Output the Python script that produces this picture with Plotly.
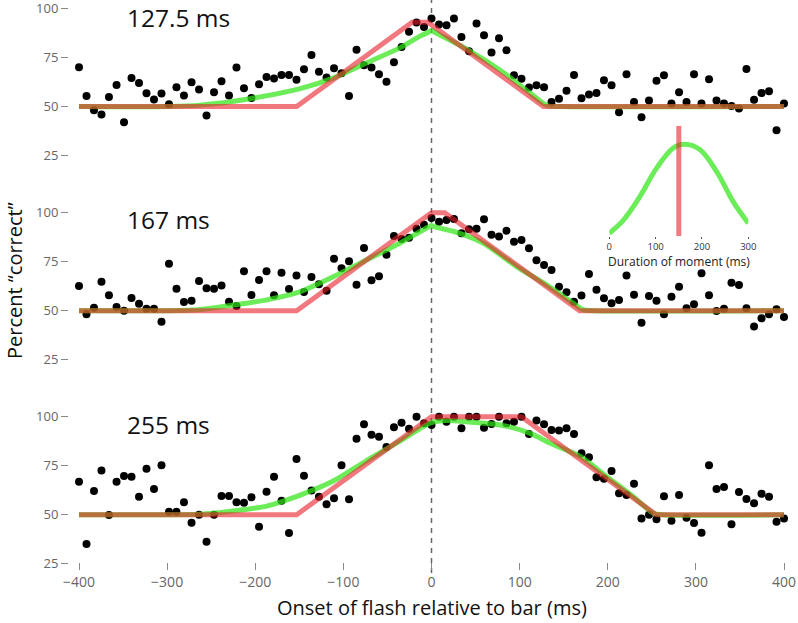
import plotly.graph_objects as go

# ---------------- data ----------------
onsets = [-400.0, -391.5, -383.0, -374.5, -366.0, -357.4, -348.9, -340.4, -331.9, -323.4,
          -314.9, -306.4, -297.9, -289.4, -280.9, -272.3, -263.8, -255.3, -246.8, -238.3,
          -229.8, -221.3, -212.8, -204.3, -195.7, -187.2, -178.7, -170.2, -161.7, -153.2,
          -144.7, -136.2, -127.7, -119.1, -110.6, -102.1, -93.6, -85.1, -76.6, -68.1,
          -59.6, -51.1, -42.6, -34.0, -25.5, -17.0, -8.5, 0.0, 8.5, 17.0,
          25.5, 34.0, 42.6, 51.1, 59.6, 68.1, 76.6, 85.1, 93.6, 102.1,
          110.6, 119.1, 127.7, 136.2, 144.7, 153.2, 161.7, 170.2, 178.7, 187.2,
          195.7, 204.3, 212.8, 221.3, 229.8, 238.3, 246.8, 255.3, 263.8, 272.3,
          280.9, 289.4, 297.9, 306.4, 314.9, 323.4, 331.9, 340.4, 348.9, 357.4,
          366.0, 374.5, 383.0, 391.5, 400.0]

pct_127 = [70.0, 55.4, 48.1, 45.9, 54.9, 61.0, 42.0, 64.6, 62.0, 56.8, 53.6, 56.6, 51.2, 59.8, 55.6,
           62.4, 58.7, 45.4, 57.3, 62.9, 55.6, 69.9, 59.3, 54.4, 61.4, 65.0, 64.3, 66.1, 66.1, 63.6,
           69.0, 76.3, 67.7, 64.8, 69.5, 67.0, 55.4, 78.9, 71.1, 69.9, 66.5, 62.6, 72.6, 80.3, 88.1,
           92.8,
           90.5, 94.9, 91.8, 91.5, 94.9, 85.5, 78.2, 92.3, 86.4, 77.6, 84.8, 78.7, 66.0, 64.1, 59.7,
           60.9, 59.8, 52.3, 54.0, 58.0, 66.1, 54.2, 56.1, 56.9, 63.4, 60.9, 47.1, 66.5, 52.3, 44.5,
           53.0, 63.1, 66.0, 51.5, 57.3, 52.3, 66.5, 51.5, 63.9, 53.0, 51.5, 50.3, 49.0, 69.1, 53.4,
           56.9, 57.8, 37.9, 51.5]

pct_167 = [62.6, 48.2, 51.5, 64.8, 57.9, 51.9, 50.0, 56.5, 53.6, 51.0, 51.0, 44.4, 74.0, 61.2, 54.4,
           55.1, 65.2, 61.4, 61.2, 62.8, 54.6, 52.4, 70.1, 58.0, 65.7, 70.1, 57.9, 69.4, 61.1, 67.9,
           59.5, 67.2, 63.5, 60.2, 76.5, 71.6, 75.2, 63.3, 82.0, 65.5, 67.6, 78.6, 88.1, 86.6, 87.2,
           91.8,
           93.9, 97.3, 95.4, 96.3, 96.8, 89.5, 91.5, 91.8, 96.6, 88.8, 87.8, 90.8, 85.2, 86.1, 81.8,
           75.7, 73.3, 70.8, 62.2, 59.4, 54.6, 57.7, 68.7, 60.7, 56.3, 53.8, 55.5, 67.9, 58.2, 43.9,
           57.5, 55.1, 48.2, 57.1, 62.2, 51.2, 53.3, 69.1, 57.9, 49.8, 51.0, 64.3, 63.1, 51.2, 42.0,
           46.1, 48.2, 50.7, 46.8]

pct_255 = [66.8, 35.0, 62.1, 72.6, 49.8, 66.8, 69.7, 69.4, 59.2, 73.5, 63.1, 75.2, 51.5, 51.5, 56.3,
           45.9, 50.0, 36.2, 50.0, 59.5, 59.5, 56.3, 56.1, 58.9, 43.9, 61.7, 69.4, 57.1, 40.7, 78.4,
           69.9, 62.4, 59.2, 55.3, 58.4, 75.2, 57.9, 88.8, 96.1, 90.8, 89.8, 84.5, 94.6, 96.9, 93.9,
           100.0,
           96.6, 95.8, 100.0, 97.4, 100.0, 94.1, 100.0, 100.0, 94.4, 96.3, 100.0, 96.6, 97.4, 100.0, 91.2,
           98.0, 96.1, 93.2, 92.9, 94.1, 91.2, 81.3, 79.3, 69.1, 68.4, 72.3, 60.9, 60.1, 65.8, 48.0,
           50.0, 47.7, 59.4, 46.9, 60.1, 48.5, 45.8, 40.8, 75.2, 63.1, 64.1, 45.1, 61.6, 58.0, 55.8,
           60.7, 59.2, 46.4, 48.0]

# red (fixed-duration moment) fits
red_127_x = [-400, -153, -22, -4, 127, 400]
red_127_y = [50, 50, 93, 93, 50, 50]
red_167_x = [-400, -153, 0, 15, 168, 400]
red_167_y = [50, 50, 100, 100, 50, 50]
red_255_x = [-400, -153, 0, 102, 255, 400]
red_255_y = [50, 50, 100, 100, 50, 50]

# green (distributed-duration) fits
grn_127_x = [-400, -300, -263, -206, -149, -111, -74, -36, -13, -3, 0, 3, 40, 78, 110, 132, 145, 400]
grn_127_y = [50, 50, 50.7, 54.0, 59.1, 64.6, 72.2, 79.9, 85.9, 88.0, 88.8, 88.0, 79.3, 68.5, 57.5, 50.3, 50, 50]
grn_167_x = [-400, -300, -265, -225, -187, -149, -111, -74, -36, -13, -3, 0, 3, 32, 59, 97, 134, 161, 172, 185, 400]
grn_167_y = [50, 50, 50.5, 52.9, 55.5, 59.7, 67.4, 75.9, 84.4, 90.3, 92.8, 93.5, 92.9, 89.5, 84.4, 72.4, 62.2, 53.8, 50.5, 50, 50]
grn_255_x = [-400, -300, -263, -225, -187, -149, -111, -74, -36, -13, 0, 17, 40, 78, 112, 135, 169, 199, 229, 252, 262, 400]
grn_255_y = [50, 50, 50.2, 51.9, 54.4, 60.0, 67.3, 77.5, 87.5, 94.0, 97.0, 98.0, 97.4, 95.8, 91.5, 86.4, 79.6, 69.4, 59.2, 50.7, 50, 50]

panel_labels = ["127.5 ms", "167 ms", "255 ms"]
y_ticks = [25, 50, 75, 100]
x_ticks = [-400, -300, -200, -100, 0, 100, 200, 300, 400]

# inset: distribution of moment duration
inset_ms = [0, 30, 66, 102, 138, 163, 196, 232, 268, 300]
inset_val = [0.03, 0.17, 0.43, 0.74, 0.96, 1.0, 0.94, 0.70, 0.37, 0.14]
inset_mark_x = [150, 150]
inset_mark_y = [0, 1.2]
inset_ticks = [0, 100, 200, 300]

# ---------------- layout helpers ----------------
WIDTH, HEIGHT = 798, 623
ML, MR, MT, MB = 69, 8, 0, 55
PW = WIDTH - ML - MR
PH = HEIGHT - MT - MB
FONT = "Open Sans"
RED = "#e8202a"
GREEN = "#33e619"


def fx(px):
    return (px - ML) / PW


def fy(py):
    return 1 - (py - MT) / PH


PXU = 1.96  # pixels per percent
# (top px, bottom px, px of 100)
panel_geo = [(0, 175, 8.5), (200, 385, 212.7), (400, 568, 416.7)]

fig = go.Figure()

series = [
    (pct_127, red_127_x, red_127_y, grn_127_x, grn_127_y),
    (pct_167, red_167_x, red_167_y, grn_167_x, grn_167_y),
    (pct_255, red_255_x, red_255_y, grn_255_x, grn_255_y),
]

for i, (pts, rx, ry, gx, gy) in enumerate(series):
    ya = "y" if i == 0 else f"y{i + 1}"
    fig.add_trace(go.Scatter(x=onsets, y=pts, mode="markers", xaxis="x", yaxis=ya,
                             marker=dict(color="black", size=8, line=dict(width=0)),
                             cliponaxis=False, showlegend=False, hoverinfo="skip"))
    fig.add_trace(go.Scatter(x=gx, y=gy, mode="lines", xaxis="x", yaxis=ya,
                             line=dict(color=GREEN, width=5, shape="spline", smoothing=0.8),
                             opacity=0.72, cliponaxis=False, showlegend=False, hoverinfo="skip"))
    fig.add_trace(go.Scatter(x=rx, y=ry, mode="lines", xaxis="x", yaxis=ya,
                             line=dict(color=RED, width=5),
                             opacity=0.6, cliponaxis=False, showlegend=False, hoverinfo="skip"))

# inset
fig.add_trace(go.Scatter(x=inset_ms, y=inset_val, mode="lines", xaxis="x4", yaxis="y4",
                         line=dict(color=GREEN, width=5, shape="spline", smoothing=1.0),
                         opacity=0.72, cliponaxis=False, showlegend=False, hoverinfo="skip"))
fig.add_trace(go.Scatter(x=inset_mark_x, y=inset_mark_y, mode="lines", xaxis="x4", yaxis="y4",
                         line=dict(color=RED, width=5),
                         opacity=0.6, cliponaxis=False, showlegend=False, hoverinfo="skip"))

layout = dict(
    width=WIDTH, height=HEIGHT,
    margin=dict(l=ML, r=MR, t=MT, b=MB, pad=0, autoexpand=False),
    paper_bgcolor="white", plot_bgcolor="rgba(0,0,0,0)",
    font=dict(family=FONT, color="#222"),
    showlegend=False,
)

x_per_px = 800 / 705.0
layout["xaxis"] = dict(
    range=[-400 - 10 * x_per_px, 400 + 6 * x_per_px],
    domain=[0, 1], anchor="free", position=fy(562), automargin=False,
    tickmode="array", tickvals=x_ticks, ticklabeloverflow="allow",
    ticks="outside", ticklen=7, tickwidth=1, tickcolor="#888",
    tickfont=dict(size=14, color="#666", family=FONT),
    showline=False, showgrid=False, zeroline=False,
)

for i, (top, bot, y100) in enumerate(panel_geo):
    key = "yaxis" if i == 0 else f"yaxis{i + 1}"
    hi = 100 + (y100 - top) / PXU
    lo = 100 - (bot - y100) / PXU
    layout[key] = dict(
        domain=[fy(bot), fy(top)], range=[lo, hi], anchor="x", automargin=False,
        tickmode="array", tickvals=y_ticks, ticklabeloverflow="allow",
        ticks="outside", ticklen=7, tickwidth=1, tickcolor="#888",
        tickfont=dict(size=13, color="#666", family=FONT),
        showline=False, showgrid=False, zeroline=False,
    )

# inset axes
inset_px_per_unit = 91.7
layout["xaxis4"] = dict(
    domain=[fx(609.3), fx(748.3)], range=[0, 300], anchor="y4", automargin=False,
    tickmode="array", tickvals=inset_ticks, ticklabeloverflow="allow",
    ticks="outside", ticklen=2, tickwidth=1, tickcolor="#555",
    tickfont=dict(size=9.5, color="#333", family=FONT),
    showline=False, showgrid=False, zeroline=False,
)
layout["yaxis4"] = dict(
    domain=[fy(236), fy(120)], range=[0, (236 - 120) / inset_px_per_unit], anchor="x4",
    visible=False, showgrid=False, zeroline=False, automargin=False,
)

fig.update_layout(**layout)

# dashed zero line
fig.add_shape(type="line", xref="x", yref="paper", x0=0, x1=0, y0=fy(573), y1=fy(0),
              line=dict(color="#666", width=1.5, dash="5px,5px"), layer="below")

# panel labels
for (top, bot, y100), lab, cy in zip(panel_geo, panel_labels, [17, 220, 424]):
    fig.add_annotation(text=lab, xref="paper", yref="paper", x=fx(125), y=fy(cy),
                       xanchor="left", yanchor="middle", showarrow=False,
                       font=dict(size=24.5, color="#111", family=FONT))

# axis titles
fig.add_annotation(text="Onset of flash relative to bar (ms)", xref="paper", yref="paper",
                   x=fx(431.5), y=fy(607), xanchor="center", yanchor="middle", showarrow=False,
                   font=dict(size=20, color="#111", family=FONT))
fig.add_annotation(text="Percent \u201ccorrect\u201d", xref="paper", yref="paper",
                   x=fx(14), y=fy(281), xanchor="center", yanchor="middle", showarrow=False,
                   textangle=-90, font=dict(size=20, color="#111", family=FONT))
fig.add_annotation(text="Duration of moment (ms)", xref="paper", yref="paper",
                   x=fx(678.5), y=fy(262), xanchor="center", yanchor="middle", showarrow=False,
                   font=dict(size=12, color="#222", family=FONT))

fig.write_html("out.html", config={"displayModeBar": False},
               post_script="document.body.style.margin='0';document.body.style.padding='0';")
